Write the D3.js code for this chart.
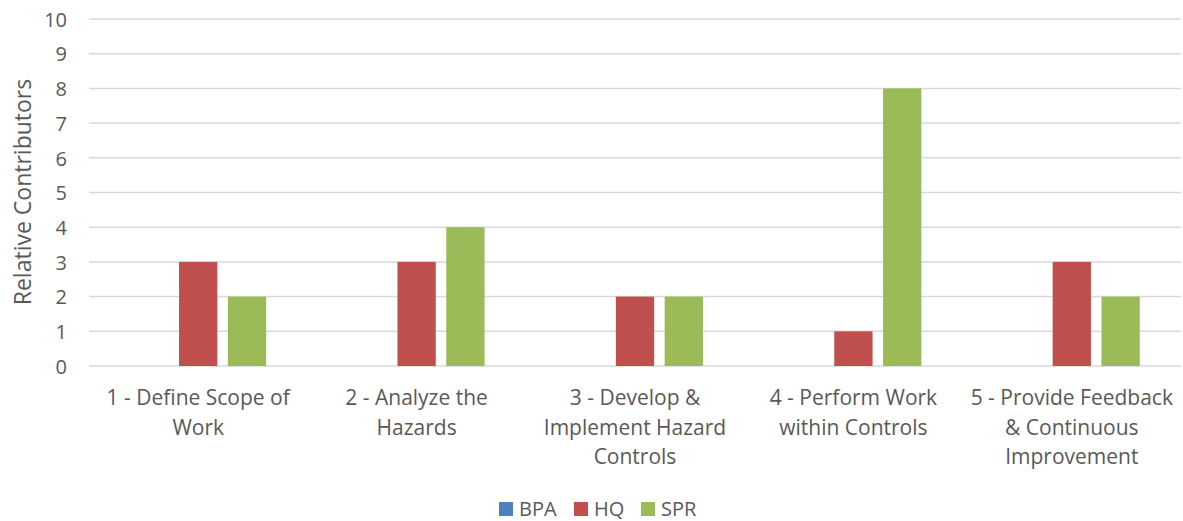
<!DOCTYPE html>
<html><head><meta charset="utf-8">
<script src="https://cdn.jsdelivr.net/npm/d3@7"></script>
<style>body{margin:0;background:#fff}svg{display:block}text{font-family:"Open Sans",sans-serif;fill:#595959}</style>
</head><body><svg id="c" width="1183" height="521"></svg>
<script>
const categories = ["1 - Define Scope of Work","2 - Analyze the Hazards","3 - Develop & Implement Hazard Controls","4 - Perform Work within Controls","5 - Provide Feedback & Continuous Improvement"];
const seriesNames = ["BPA","HQ","SPR"];
const BPA = [0,0,0,0,0];
const HQ  = [3,3,2,1,3];
const SPR = [2,4,2,8,2];
const yTicks = [0,1,2,3,4,5,6,7,8,9,10];
const colors = ["#4F81BD","#C0504D","#9BBB59"];
const values = [BPA,HQ,SPR];

const svg = d3.select("#c");
const m = {l:89, r:2, t:19, b:155};
const W = 1183, H = 521;
const x = d3.scaleBand().domain(categories).range([m.l, W-m.r]).paddingInner(0).paddingOuter(0);
const y = d3.scaleLinear().domain([0,10]).range([366, 19]);
const barW = 38.3, gap = 10.5;
const groupW = 3*barW+2*gap;
const xs = d3.scaleBand().domain(seriesNames).range([0, groupW]).paddingInner(gap/(barW+gap)).paddingOuter(0);

svg.append("g").selectAll("line").data(yTicks).join("line")
  .attr("x1", m.l).attr("x2", W-m.r)
  .attr("y1", d=>y(d)).attr("y2", d=>y(d))
  .attr("stroke","#D9D9D9").attr("stroke-width",1.5);

const yAxis = d3.axisLeft(y).tickValues(yTicks).tickSize(0).tickPadding(0);
const ga = svg.append("g").attr("transform","translate(67,0)").call(yAxis);
ga.select(".domain").remove();
ga.selectAll("text").style("font-size","20px").attr("fill","#595959").attr("font-family",null).attr("dy","0.36em");

seriesNames.forEach((s,i)=>{
  svg.append("g").selectAll("rect").data(categories).join("rect")
    .attr("x", c => x(c) + x.bandwidth()/2 - groupW/2 + xs(s))
    .attr("width", xs.bandwidth())
    .attr("y", (c,j)=> y(values[i][j]))
    .attr("height", (c,j)=> y(0)-y(values[i][j]))
    .attr("fill", colors[i]);
});

const lab = svg.append("g").selectAll("text").data(categories).join("text")
  .attr("text-anchor","middle").style("font-size","21px")
  .attr("x", c => x(c)+x.bandwidth()/2).attr("y", 405);
lab.each(function(c){
  const t = d3.select(this), words = c.split(" ");
  let line = [], lines = [];
  const tmp = t.append("tspan");
  words.forEach(w=>{
    tmp.text(line.concat([w]).join(" "));
    if (tmp.node().getComputedTextLength() > 212 && line.length) { lines.push(line.join(" ")); line=[w]; }
    else line.push(w);
  });
  lines.push(line.join(" "));
  tmp.remove();
  lines.forEach((l,k)=> t.append("tspan").attr("x", x(c)+x.bandwidth()/2).attr("dy", k?29.5:0).text(l));
});

svg.append("text").attr("transform","translate(31,192) rotate(-90)").attr("text-anchor","middle")
  .style("font-size","23px").text("Relative Contributors");

const lx = [499, 574, 641];
const lg = svg.append("g").selectAll("g").data(seriesNames).join("g")
  .attr("transform",(d,i)=>`translate(${lx[i]},502)`);
lg.append("rect").attr("width",14).attr("height",14).attr("fill",(d,i)=>colors[i]);
lg.append("text").attr("x",20).attr("y",14).style("font-size","20px").text(d=>d);
</script></body></html>
